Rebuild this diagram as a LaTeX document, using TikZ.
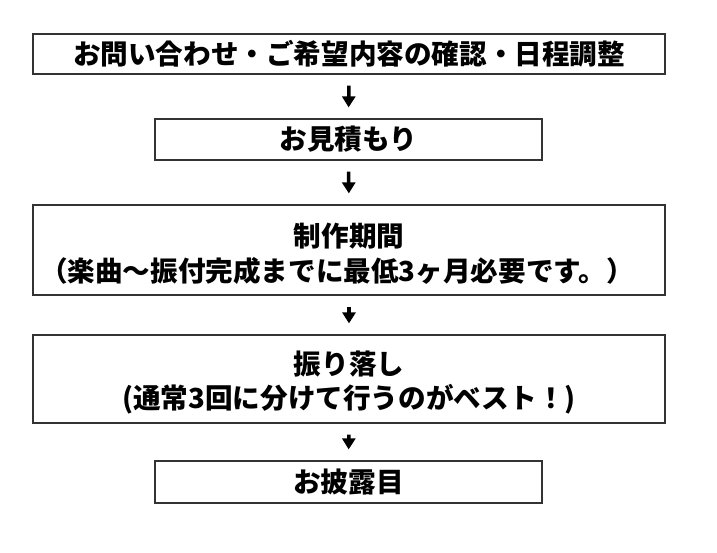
\documentclass[tikz,border=0pt]{standalone}
\usepackage{fontspec}
\newfontfamily\jp{Noto Sans CJK JP}
\usetikzlibrary{arrows.meta}
\tikzset{
  box/.style={draw=black!80, line width=1.2pt, inner sep=0pt, align=center,
    font=\jp\bfseries\fontsize{27.6pt}{33pt}\selectfont},
  txt/.style={inner sep=0pt, font=\jp\bfseries\fontsize{27.6pt}{33pt}\selectfont},
  arr/.style={line width=3.5pt, -{Triangle[length=11pt,width=13pt]}, shorten <=11pt, shorten >=11pt}
}
\begin{document}
\begin{tikzpicture}[x=1pt,y=1pt]
\useasboundingbox (0,0) rectangle (717,-553);
\node[box, minimum width=632pt, minimum height=40pt] (b1) at (349,-54) {お問い合わせ・ご希望内容の確認・日程調整};
\node[box, minimum width=387pt, minimum height=41pt] (b2) at (348.5,-139.5) {お見積もり};
\node[box, minimum width=632pt, minimum height=90pt] (b3) at (349,-250) {};
\node[txt] (b3a) at (349,-236) {制作期間};
\node[txt] (b3b) at (337,-271) {（楽曲〜振付完成までに最低3ヶ月必要です。）};
\node[box, minimum width=632pt, minimum height=88pt] (b4) at (349,-379) {};
\node[txt] (b4a) at (349,-364) {振り落し};
\node[txt] (b4b) at (349,-399) {(通常3回に分けて行うのがベスト！)};
\node[box, minimum width=387pt, minimum height=42pt] (b5) at (348.5,-482) {お披露目};
\draw[arr] (b1.south) -- (b2.north);
\draw[arr] (b2.south) -- (b3.north);
\draw[arr] (b3.south) -- (b4.north);
\draw[arr] (b4.south) -- (b5.north);
\end{tikzpicture}
\end{document}
